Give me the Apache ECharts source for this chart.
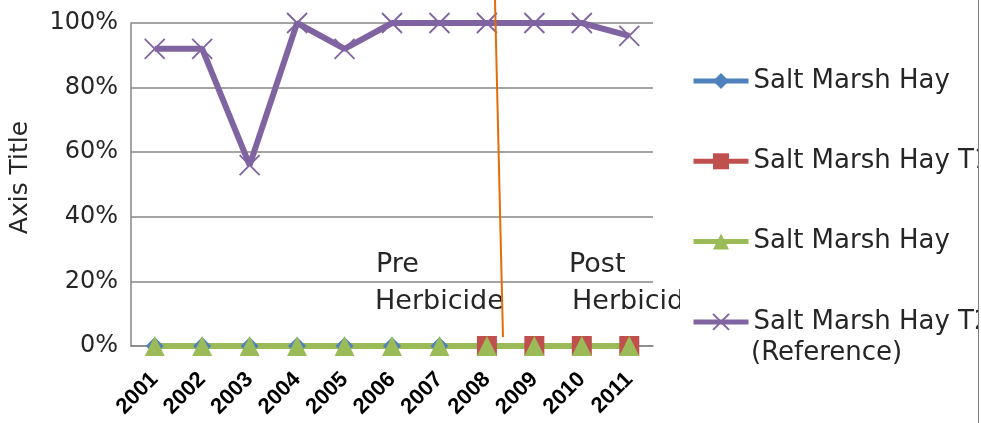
<!DOCTYPE html>
<html><head><meta charset="utf-8">
<script src="https://cdn.jsdelivr.net/npm/echarts@6/dist/echarts.min.js"></script>
<style>html,body{margin:0;padding:0;background:#fff}#c{width:981px;height:423px}</style>
</head><body><div id="c"></div>
<script>
const years = ['2001','2002','2003','2004','2005','2006','2007','2008','2009','2010','2011'];
const seriesNames = ['Salt Marsh Hay', 'Salt Marsh Hay T1', 'Salt Marsh Hay \u2003T2', 'Salt Marsh Hay T2 (Reference)'];
const hay    = [0,0,0,0,0,0,0,0,0,0,0];
const hayT1  = [null,null,null,null,null,null,null,0,0,0,0];
const hayT2  = [0,0,0,0,0,0,0,0,0,0,0];
const hayRef = [0.92,0.92,0.56,1.00,0.92,1.00,1.00,1.00,1.00,1.00,0.96];
const yMin = 0, yMax = 1, yStep = 0.2;
const annoPre = ['Pre', 'Herbicide'];
const annoPost = ['Post', 'Herbicide'];
const refNote = '(Reference)';

const FONT = 'DejaVu Sans';
const TXT = '#262626';
const chart = echarts.init(document.getElementById('c'));
const cross = 'path://M0,0L20,20M20,0L0,20';

function lineSeries(name, data, color, symbol, size, width, extraItem) {
  return {
    name, type: 'line', data, symbol, symbolSize: size,
    lineStyle: { color, width },
    itemStyle: Object.assign({ color }, extraItem || {}),
    emphasis: { disabled: true },
    animation: false, connectNulls: false
  };
}
const annoFont = '27px "DejaVu Sans"';

chart.setOption({
  animation: false,
  backgroundColor: '#fff',
  grid: { left: 129, right: 328, top: 23, bottom: 77, containLabel: false },
  xAxis: {
    type: 'category', data: years, boundaryGap: true,
    axisLine: { lineStyle: { color: '#868686', width: 1.5 } },
    axisTick: { show: false },
    axisLabel: { rotate: 45, color: '#000', fontFamily: 'Liberation Sans', fontWeight: 'bold', fontSize: 22, margin: 30, interval: 0 },
    splitLine: { show: false }
  },
  yAxis: {
    type: 'value', min: yMin, max: yMax, interval: yStep,
    name: 'Axis Title', nameLocation: 'middle', nameRotate: 90, nameGap: 98,
    nameTextStyle: { fontFamily: FONT, fontSize: 25, color: TXT, padding: [0, 0, 0, 14] },
    axisLine: { show: true, lineStyle: { color: '#868686', width: 1.5 } },
    axisTick: { show: false },
    axisLabel: { formatter: v => Math.round(v * 100) + '%', fontFamily: FONT, fontSize: 24, color: TXT, margin: 13 },
    splitLine: { lineStyle: { color: '#868686', width: 1.5 } }
  },
  legend: {
    orient: 'vertical', left: 691, top: 66, padding: 0,
    itemWidth: 55, itemHeight: 20, itemGap: 50.3,
    lineStyle: { width: 5 },
    formatter: n => n === seriesNames[3] ? 'Salt Marsh Hay T2' : n,
    textStyle: { fontFamily: FONT, fontSize: 26, color: TXT, lineHeight: 30 },
    data: seriesNames
  },
  series: [
    lineSeries(seriesNames[0], hay, '#4F81BD', 'diamond', 18, 5),
    lineSeries(seriesNames[1], hayT1, '#C0504D', 'rect', 20, 5),
    lineSeries(seriesNames[2], hayT2, '#9BBB59', 'triangle', 20, 6),
    lineSeries(seriesNames[3], hayRef, '#8064A2', cross, 20, 6, { borderColor: '#8064A2', borderWidth: 1.8 })
  ],
  graphic: [
    { type: 'text', z: 50, style: { text: annoPre[0], x: 376, y: 265, verticalAlign: 'middle', font: annoFont, fill: TXT } },
    { type: 'text', z: 50, style: { text: annoPre[1], x: 375, y: 302, verticalAlign: 'middle', font: annoFont, fill: TXT } },
    { type: 'text', z: 50, style: { text: annoPost[0], x: 569, y: 265, verticalAlign: 'middle', font: annoFont, fill: TXT } },
    { type: 'text', z: 50, style: { text: annoPost[1], x: 572, y: 302, verticalAlign: 'middle', font: annoFont, fill: TXT } },
    { type: 'rect', z: 60, shape: { x: 680, y: 284, width: 40, height: 29 }, style: { fill: '#fff' } },
    { type: 'text', z: 50, style: { text: refNote, x: 751, y: 353, verticalAlign: 'middle', font: annoFont.replace('27', '26'), fill: TXT } },
    { type: 'line', z: 100, shape: { x1: 495, y1: 0, x2: 503, y2: 337 }, style: { stroke: '#E36C09', lineWidth: 2 } },
    { type: 'rect', z: 200, shape: { x: 978, y: 0, width: 3, height: 423 }, style: { fill: '#fff' } },
    { type: 'line', z: 210, shape: { x1: 978.5, y1: 0, x2: 978.5, y2: 423 }, style: { stroke: '#7f7f7f', lineWidth: 1 } }
  ]
});
</script></body></html>
